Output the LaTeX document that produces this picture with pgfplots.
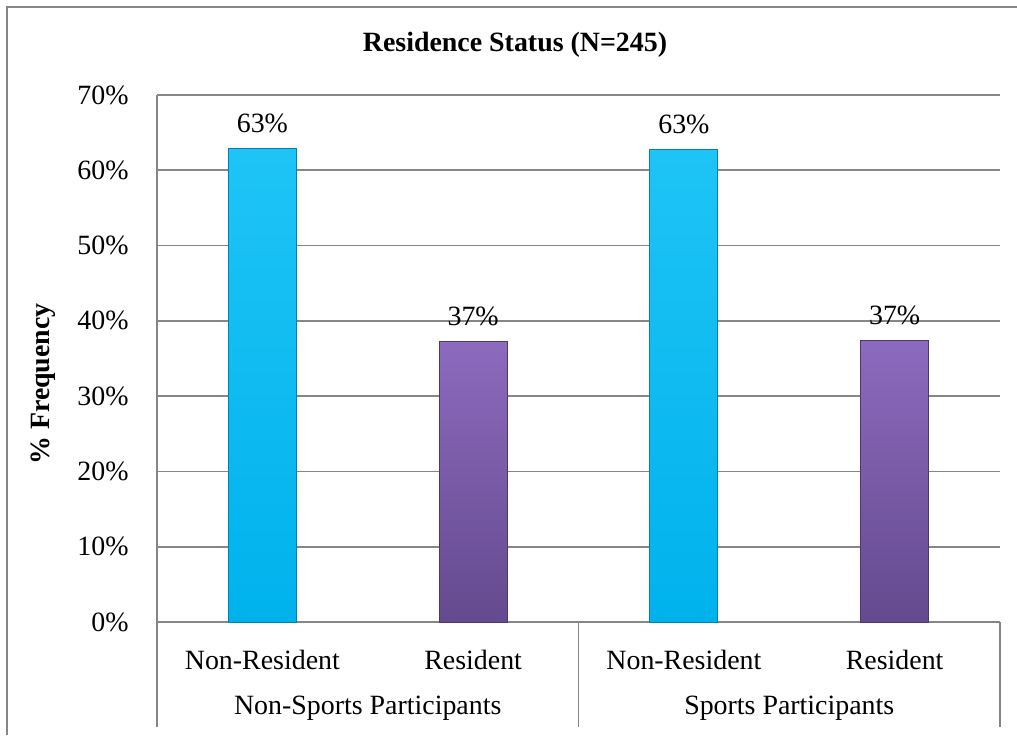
\documentclass[border=0pt]{standalone}
\usepackage{pgfplots}
\pgfplotsset{compat=1.18}
\usepackage{fontspec}
\setmainfont{Liberation Serif}
\definecolor{gridgray}{RGB}{134,134,134}
\definecolor{cyantop}{RGB}{30,196,246}
\definecolor{cyanbot}{RGB}{0,178,236}
\definecolor{cyanedge}{RGB}{0,130,180}
\definecolor{purtop}{RGB}{140,106,190}
\definecolor{purbot}{RGB}{100,74,142}
\definecolor{puredge}{RGB}{78,56,112}
\begin{document}
\begin{tikzpicture}[x=1bp,y=1bp,font=\fontsize{14}{17}\selectfont]
\useasboundingbox (0,0) rectangle (508.5,367.5);
\draw[gridgray, line width=0.8bp] (3.5,0) -- (3.5,364) -- (508.5,364);
\node[font=\fontsize{14}{17}\selectfont\bfseries] at (257.5,345) {Residence Status (N=245)};
\node[font=\fontsize{14}{17}\selectfont\bfseries, rotate=90] at (21.5,175.5) {\% Frequency};
\begin{axis}[
  at={(78.5bp,56.5bp)}, anchor=south west,
  scale only axis, width=421.5bp, height=263.5bp,
  xmin=-0.5, xmax=3.5, ymin=0, ymax=70,
  axis lines*=left,
  axis line style={gridgray, line width=0.8bp},
  ymajorgrids, grid style={gridgray, line width=0.8bp},
  major tick length=0pt,
  ytick={0,10,...,70},
  yticklabels={0\%,10\%,20\%,30\%,40\%,50\%,60\%,70\%},
  yticklabel style={anchor=east, inner sep=0pt, xshift=-14bp},
  xtick={0,1,2,3},
  xticklabels={Non-Resident,Resident,Non-Resident,Resident},
  xticklabel style={anchor=center, inner sep=0pt, yshift=-19bp},
  clip=false,
]
\addplot[ybar, bar width=34bp, top color=cyantop, bottom color=cyanbot, draw=cyanedge, line width=0.4bp,
  nodes near coords, point meta=explicit symbolic,
  every node near coord/.style={anchor=base, inner sep=0pt, yshift=8bp, black}]
  coordinates {(0,62.9)[63\%] (2,62.8)[63\%]};
\addplot[ybar, bar width=34bp, top color=purtop, bottom color=purbot, draw=puredge, line width=0.4bp,
  nodes near coords, point meta=explicit symbolic,
  every node near coord/.style={anchor=base, inner sep=0pt, yshift=8bp, black}]
  coordinates {(1,37.3)[37\%] (3,37.4)[37\%]};
\node at ([yshift=-43bp]axis cs:0.5,0) {Non-Sports Participants};
\node at ([yshift=-43bp]axis cs:2.5,0) {Sports Participants};
\draw[gridgray, line width=0.8bp] (axis cs:-0.5,0) -- ([yshift=-52.5bp]axis cs:-0.5,0);
\draw[gridgray, line width=0.8bp] (axis cs:1.5,0) -- ([yshift=-52.5bp]axis cs:1.5,0);
\draw[gridgray, line width=0.8bp] (axis cs:3.5,0) -- ([yshift=-52.5bp]axis cs:3.5,0);
\end{axis}
\end{tikzpicture}
\end{document}
